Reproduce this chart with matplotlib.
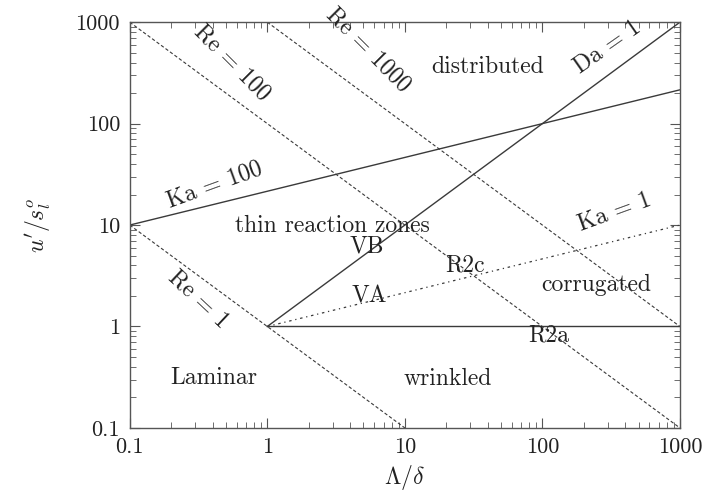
import numpy as np
import matplotlib.pyplot as plt
from matplotlib.ticker import FixedLocator, FixedFormatter, LogLocator, NullFormatter

plt.rcParams['font.family'] = ['cmr10', 'DejaVu Serif']
plt.rcParams['mathtext.fontset'] = 'cm'
plt.rcParams['axes.formatter.use_mathtext'] = True

# boundary lines (end points, log-log)
re1_x, re1_y = [0.1, 10], [10, 0.1]
re100_x, re100_y = [0.1, 1000], [1000, 0.1]
re1000_x, re1000_y = [1, 1000], [1000, 1]
ka100_x, ka100_y = [0.1, 1000], [10, 215.4]
ka1_x, ka1_y = [1, 1000], [1, 10]
da1_x, da1_y = [1, 1000], [1, 1000]
u1_x, u1_y = [1, 1000], [1, 1]

ticks = [0.1, 1, 10, 100, 1000]
tick_labels = ['0.1', '1', '10', '100', '1000']

# (text, x frac, y frac, rotation)
labels = [
    ('Re = 100', 0.185, 0.901, -45),
    ('Re = 1000', 0.433, 0.931, -45),
    ('Re = 1', 0.124, 0.318, -43),
    ('distributed', 0.651, 0.889, 0),
    ('Da = 1', 0.869, 0.938, 35),
    ('Ka = 100', 0.155, 0.599, 20),
    ('thin reaction zones', 0.369, 0.497, 0),
    ('VB', 0.431, 0.447, 0),
    ('Ka = 1', 0.882, 0.532, 20),
    ('R2c', 0.609, 0.401, 0),
    ('VA', 0.436, 0.325, 0),
    ('corrugated', 0.847, 0.352, 0),
    ('R2a', 0.762, 0.227, 0),
    ('Laminar', 0.153, 0.123, 0),
    ('wrinkled', 0.578, 0.121, 0),
]

fig = plt.figure(figsize=(7.09, 4.93), dpi=100)
ax = fig.add_axes([0.183, 0.132, 0.776, 0.823])
lc = '#3a3a3a'
dash = (0, (3, 2))
ax.plot(re1_x, re1_y, color=lc, lw=0.8, linestyle=dash)
ax.plot(re100_x, re100_y, color=lc, lw=0.8, linestyle=dash)
ax.plot(re1000_x, re1000_y, color=lc, lw=0.8, linestyle=dash)
ax.plot(ka100_x, ka100_y, color=lc, lw=1.0)
ax.plot(ka1_x, ka1_y, color=lc, lw=0.9, linestyle=(0, (2, 3, 1, 3)))
ax.plot(da1_x, da1_y, color=lc, lw=1.0)
ax.plot(u1_x, u1_y, color=lc, lw=1.0)

ax.set_xscale('log')
ax.set_yscale('log')
ax.set_xlim(0.1, 1000)
ax.set_ylim(0.1, 1000)
for axis in (ax.xaxis, ax.yaxis):
    axis.set_major_locator(FixedLocator(ticks))
    axis.set_major_formatter(FixedFormatter(tick_labels))
    axis.set_minor_locator(LogLocator(base=10, subs=np.arange(2, 10)))
    axis.set_minor_formatter(NullFormatter())
ax.tick_params(which='both', direction='in', top=True, right=True, color='#555555',
               labelsize=16, labelcolor='#222222')
ax.tick_params(which='major', length=7, width=0.8, pad=7)
ax.tick_params(which='minor', length=4, width=0.6)
for s in ax.spines.values():
    s.set_color('#555555')
    s.set_linewidth(1.0)

for txt, fx, fy, rot in labels:
    ax.text(fx, fy, txt, transform=ax.transAxes, ha='center', va='center',
            rotation=rot, rotation_mode='anchor', fontsize=17, color='#222222')

ax.set_xlabel(r'$\Lambda/\delta$', fontsize=17, color='#222222', labelpad=4)
ax.set_ylabel(r"$u'/s_l^o$", fontsize=17, color='#222222', labelpad=16)

fig.savefig('out.png', dpi=100)
